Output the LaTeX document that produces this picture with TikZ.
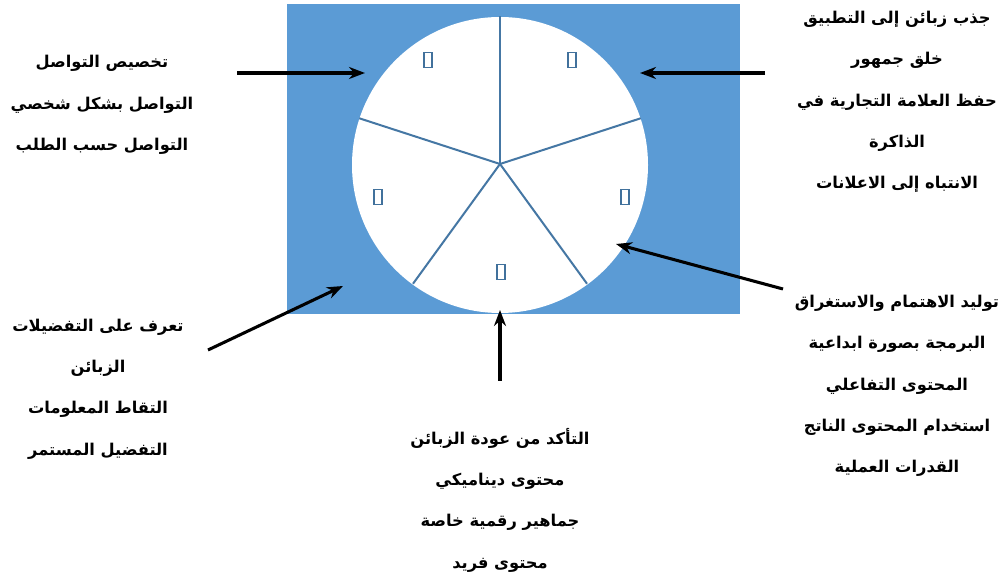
\documentclass[tikz,border=0pt]{standalone}
\usepackage{fontspec}
\usetikzlibrary{arrows.meta}
\TeXXeTstate=1
\newfontfamily\arabicfont[Script=Arabic]{DejaVu Sans}
\definecolor{panelblue}{RGB}{91,155,213}
\definecolor{spokeblue}{RGB}{65,113,156}
\newcommand{\artext}[1]{\beginR#1\endR}

\tikzset{
  blocktext/.style={font=\arabicfont\bfseries\fontsize{12.2}{31}\selectfont, align=center, inner sep=0pt},
  tofu/.style={draw=spokeblue, line width=0.9pt, minimum width=6pt, minimum height=11pt, inner sep=0pt},
  pointer/.style={-{Stealth[length=12pt, width=9pt]}, line width=2.3pt, black}
}

\begin{document}
\begin{tikzpicture}[x=0.75pt, y=-0.75pt]
  \useasboundingbox (0,0) rectangle (1006,580);

  % --- Panel and pie ---
  \fill[panelblue] (287,4) rectangle (740,314);
  \fill[white] (500,165) circle (148);
  \foreach \a in {90,162,234,306,18} {
    \draw[spokeblue!85!panelblue, line width=1.5pt] (500,164) -- ++(-\a:148);
  }

  % empty glyph boxes
  \node[tofu] (g1) at (428,60) {};
  \node[tofu] (g2) at (572,60) {};
  \node[tofu] (g3) at (378,197) {};
  \node[tofu] (g4) at (625,197) {};
  \node[tofu] (g5) at (501,272) {};

  % --- Texts ---
  \node[blocktext] (tl) at (102,105) {\artext{تخصيص التواصل}\\\artext{التواصل بشكل شخصي}\\\artext{التواصل حسب الطلب}};
  \node[blocktext] (tr) at (897,102) {\artext{جذب زبائن إلى التطبيق}\\\artext{خلق جمهور}\\\artext{حفظ العلامة التجارية في}\\\artext{الذاكرة}\\\artext{الانتباه إلى الاعلانات}};
  \node[blocktext] (br) at (897,386) {\artext{توليد الاهتمام والاستغراق}\\\artext{البرمجة بصورة ابداعية}\\\artext{المحتوى التفاعلي}\\\artext{استخدام المحتوى الناتج}\\\artext{القدرات العملية}};
  \node[blocktext] (bl) at (98,389) {\artext{تعرف على التفضيلات}\\\artext{الزبائن}\\\artext{التقاط المعلومات}\\\artext{التفضيل المستمر}};
  \node[blocktext] (bc) at (500,500) {\artext{التأكد من عودة الزبائن}\\\artext{محتوى ديناميكي}\\\artext{جماهير رقمية خاصة}\\\artext{محتوى فريد}};

  % --- Arrows ---
  \coordinate (tlS) at (237,73);
  \coordinate (tlE) at (365,73);
  \coordinate (trS) at (765,73);
  \coordinate (trE) at (640,73);
  \coordinate (brS) at (783,289);
  \coordinate (brE) at (616,244);
  \coordinate (bcS) at (500,381);
  \coordinate (bcE) at (500,310);
  \coordinate (blS) at (208,350);
  \coordinate (blE) at (343,286);

  \draw[pointer] (tlS) -- (tlE);
  \draw[pointer] (trS) -- (trE);
  \draw[pointer] (brS) -- (brE);
  \draw[pointer] (bcS) -- (bcE);
  \draw[pointer] (blS) -- (blE);

\end{tikzpicture}
\end{document}
